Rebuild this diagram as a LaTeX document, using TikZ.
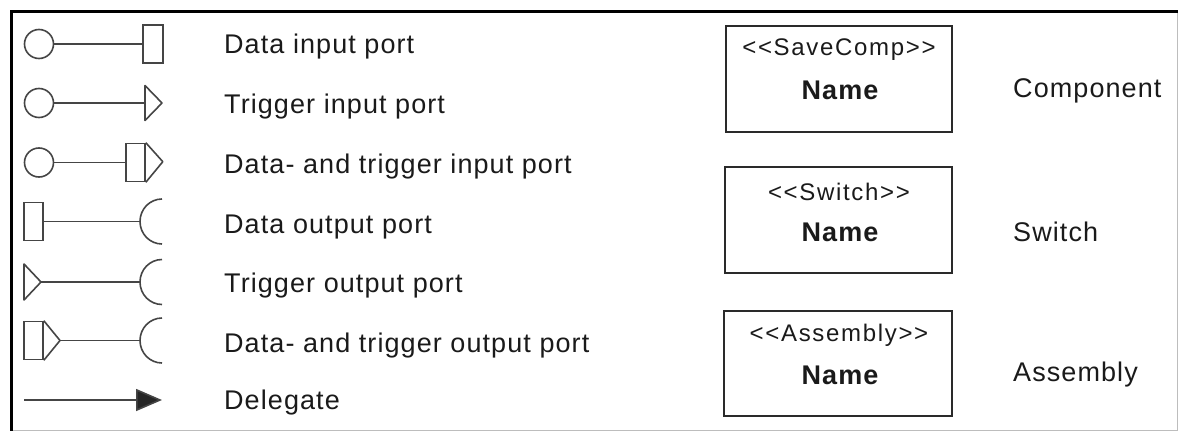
\documentclass[tikz,border=0pt]{standalone}
\usepackage{fontspec}
\setmainfont{Liberation Sans}
\newfontfamily\lblfont[LetterSpace=4]{Liberation Sans}
\newfontfamily\stereofont[LetterSpace=7]{Liberation Sans}
\usetikzlibrary{arrows.meta}
\definecolor{inkc}{HTML}{1A1A1A}
\definecolor{symc}{HTML}{454545}
\definecolor{boxc}{HTML}{2A2A2A}
\definecolor{rimc}{HTML}{BDBDBD}
\tikzset{
  sym/.style={draw=symc, line width=1.6pt},
  portcirc/.style={sym, circle, minimum size=29pt, inner sep=0pt},
  portrect/.style={sym, rectangle, minimum width=19pt, minimum height=38pt, inner sep=0pt},
  wire/.style={symc, line width=1.6pt},
  lbl/.style={anchor=base west, inner sep=0pt, text=inkc, font=\lblfont\fontsize{27}{30}\selectfont},
  compbox/.style={draw=boxc, line width=2.2pt, rectangle, minimum width=226pt, minimum height=106pt, inner sep=0pt},
  stereo/.style={inner sep=0pt, text=inkc, font=\stereofont\fontsize{24}{28}\selectfont},
  cname/.style={inner sep=0pt, text=inkc, font=\lblfont\bfseries\fontsize{27}{30}\selectfont},
}
\begin{document}
\begin{tikzpicture}[x=1pt, y=-1pt]
\useasboundingbox (0,0) rectangle (1178,431);
% frame
\draw[rimc, line width=1pt] (1177,11) -- (1177,430) -- (11,430);
\draw[black, line width=3pt] (11.5,431) -- (11.5,11.5) -- (1178,11.5);

% row 1: data input port
\node[portcirc] (c1) at (39,44) {};
\node[portrect, minimum width=20pt] (r1) at (153,44) {};
\draw[wire] (c1) -- (r1);
\node[lbl] (l1) at (224,53) {Data input port};

% row 2: trigger input port
\node[portcirc] (c2) at (39,103) {};
\coordinate (t2) at (145,103);
\draw[wire] (c2) -- (t2);
\draw[sym, line join=round] (t2) ++(0,-17.5) -- ++(17,17.5) -- ++(-17,17.5) -- cycle;
\node[lbl] (l2) at (224,113) {Trigger input port};

% row 3: data and trigger input port
\node[portcirc] (c3) at (39,162.5) {};
\node[portrect] (r3) at (135.5,162.5) {};
\draw[wire] (c3) -- (r3);
\draw[sym, line join=round] (r3.north east) -- ++(17,19) -- (r3.south east);
\node[lbl] (l3) at (224,173) {Data- and trigger input port};

% row 4: data output port
\node[portrect] (r4) at (33.5,221.5) {};
\coordinate (a4) at (140,221.5);
\draw[wire] (r4) -- (a4);
\draw[sym] (a4) ++(22,-22.5) arc[start angle=270, end angle=90, x radius=22, y radius=22.5];
\node[lbl] (l4) at (224,233) {Data output port};

% row 5: trigger output port
\coordinate (t5) at (41,282);
\draw[sym, line join=round] (t5) -- ++(-17,-18) -- ++(0,36) -- cycle;
\coordinate (a5) at (140,282);
\draw[wire] (t5) -- (a5);
\draw[sym] (a5) ++(22,-22.5) arc[start angle=270, end angle=90, x radius=22, y radius=22.5];
\node[lbl] (l5) at (224,292) {Trigger output port};

% row 6: data and trigger output port
\node[portrect] (r6) at (33.5,340.5) {};
\coordinate (t6) at (60,340.5);
\draw[sym, line join=round] (r6.north east) -- (t6) -- (r6.south east);
\coordinate (a6) at (140,340.5);
\draw[wire] (t6) -- (a6);
\draw[sym] (a6) ++(22,-22.5) arc[start angle=270, end angle=90, x radius=22, y radius=22.5];
\node[lbl] (l6) at (224,352) {Data- and trigger output port};

% row 7: delegate
\coordinate (d1) at (24,400);
\coordinate (d2) at (162,400);
\draw[wire, -{Triangle[length=26pt, width=22pt, fill=black!85]}] (d1) -- (d2);
\node[lbl] (l7) at (224,409) {Delegate};

% component kinds
\node[compbox] (b1) at (839,79) {};
\node[stereo] (s1) at (839,50) {<{}<SaveComp>{}>};
\node[cname] (n1) at (840,90) {Name};
\node[lbl, anchor=west] (k1) at (1013,91) {Component};

\node[compbox, minimum width=227pt] (b2) at (838.5,220) {};
\node[stereo] (s2) at (839,192) {<{}<Switch>{}>};
\node[cname] (n2) at (840,232) {Name};
\node[lbl, anchor=west] (k2) at (1013,232) {Switch};

\node[compbox, minimum width=228pt, minimum height=105pt] (b3) at (838,363.5) {};
\node[stereo] (s3) at (839,335) {<{}<Assembly>{}>};
\node[cname] (n3) at (840,375) {Name};
\node[lbl, anchor=west] (k3) at (1013,375) {Assembly};
\end{tikzpicture}
\end{document}
